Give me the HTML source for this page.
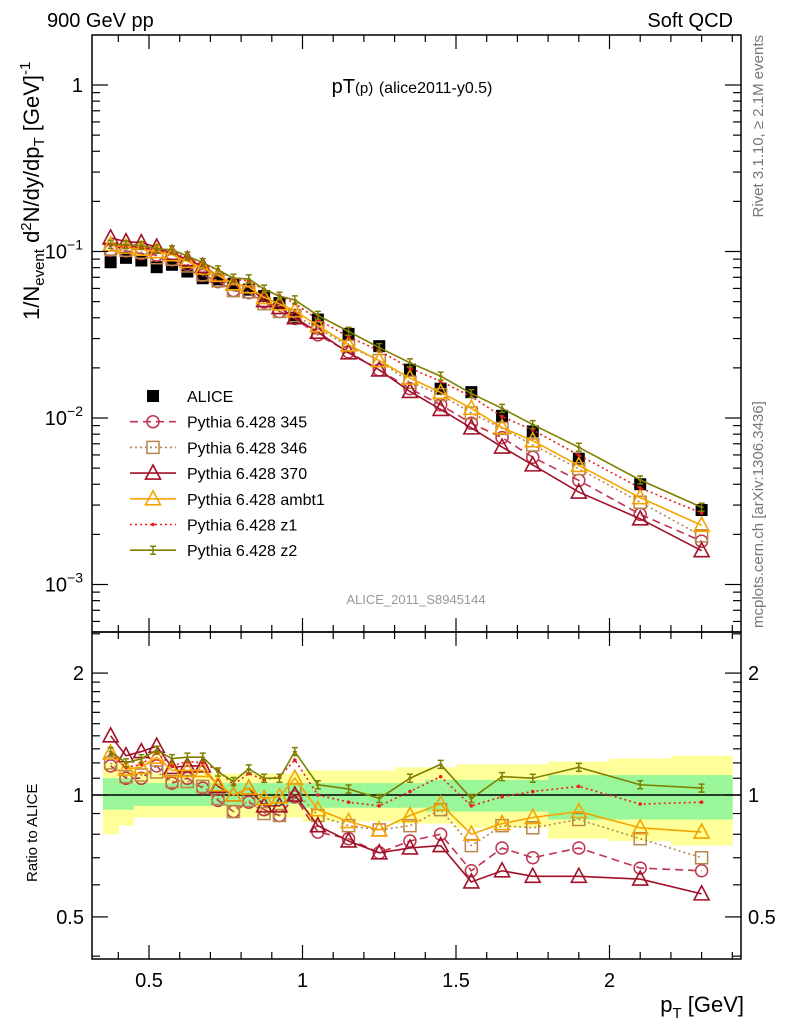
<!DOCTYPE html>
<html><head><meta charset="utf-8"><style>
html,body{margin:0;padding:0;background:#fff;}
svg{display:block;font-family:"Liberation Sans",sans-serif;}
</style></head><body>
<svg id="chart" width="786" height="1024" viewBox="0 0 786 1024" xmlns="http://www.w3.org/2000/svg">
<text x="47" y="27" font-size="20">900 GeV pp</text>
<text x="733" y="27" font-size="20" text-anchor="end">Soft QCD</text>
<text x="412" y="93" font-size="20" text-anchor="middle">pT<tspan font-size="15">(p)</tspan> <tspan font-size="16">(alice2011-y0.5)</tspan></text>
<text x="416" y="604" font-size="13" fill="#999" text-anchor="middle">ALICE_2011_S8945144</text>
<text transform="translate(763,35) rotate(-90)" font-size="15" fill="#777" text-anchor="end">Rivet 3.1.10, ≥ 2.1M events</text>
<text transform="translate(763,628) rotate(-90)" font-size="15" fill="#777">mcplots.cern.ch [arXiv:1306.3436]</text>
<text transform="translate(39,320) rotate(-90)" font-size="22">1/N<tspan font-size="15" dy="5">event</tspan><tspan dy="-5"> d</tspan><tspan font-size="15" dy="-8">2</tspan><tspan dy="8">N/dy/dp</tspan><tspan font-size="15" dy="5">T</tspan><tspan dy="-5">  [GeV]</tspan><tspan font-size="15" dy="-9">-1</tspan></text>
<text transform="translate(37,882) rotate(-90)" font-size="15">Ratio to ALICE</text>
<text x="744" y="1012" font-size="22" text-anchor="end">p<tspan font-size="15" dy="6">T</tspan><tspan dy="-6"> [GeV]</tspan></text>
<g id="g"></g>
</svg>
<script>
const pt = [0.375,0.425,0.475,0.525,0.575,0.625,0.675,0.725,0.775,0.825,0.875,0.925,0.975,1.05,1.15,1.25,1.35,1.45,1.55,1.65,1.75,1.9,2.1,2.3];
const binEdges = [0.35,0.4,0.45,0.5,0.55,0.6,0.65,0.7,0.75,0.8,0.85,0.9,0.95,1.0,1.1,1.2,1.3,1.4,1.5,1.6,1.7,1.8,2.0,2.2,2.4];
const alice = [0.0862,0.0916,0.0883,0.0805,0.0832,0.0758,0.0691,0.068,0.064,0.059,0.054,0.049,0.040,0.039,0.032,0.027,0.0195,0.015,0.0143,0.0103,0.0083,0.0057,0.0040,0.0028];
const r345 = [1.18,1.10,1.10,1.18,1.07,1.10,1.04,0.97,0.91,0.96,0.92,0.89,0.99,0.81,0.78,0.72,0.77,0.80,0.65,0.74,0.70,0.74,0.66,0.65];
const r346 = [1.20,1.11,1.12,1.14,1.08,1.08,1.05,0.98,0.91,0.97,0.90,0.89,1.03,0.89,0.84,0.82,0.84,0.92,0.75,0.84,0.83,0.87,0.78,0.70];
const r370 = [1.40,1.25,1.28,1.32,1.17,1.18,1.18,1.05,1.00,1.04,0.94,0.94,1.00,0.84,0.77,0.72,0.74,0.75,0.61,0.65,0.63,0.63,0.62,0.57];
const rAmbt1 = [1.27,1.16,1.17,1.24,1.15,1.15,1.15,1.06,1.00,1.04,0.98,0.99,1.10,0.92,0.86,0.82,0.89,0.95,0.80,0.85,0.88,0.91,0.83,0.81];
const rZ1 = [1.26,1.17,1.19,1.27,1.18,1.21,1.20,1.15,1.06,1.13,1.09,1.11,1.22,1.00,0.96,0.94,1.02,1.11,0.94,0.99,1.02,1.05,0.95,0.96];
const rZ2 = [1.28,1.20,1.23,1.29,1.23,1.24,1.24,1.14,1.08,1.16,1.10,1.10,1.28,1.06,1.035,0.98,1.10,1.19,0.98,1.11,1.10,1.17,1.06,1.04];
const greenLo = [0.92,0.92,0.94,0.94,0.94,0.94,0.94,0.94,0.94,0.94,0.94,0.94,0.95,0.93,0.93,0.93,0.93,0.91,0.91,0.91,0.91,0.87,0.87,0.87];
const greenHi = [1.10,1.10,1.07,1.07,1.07,1.07,1.07,1.07,1.07,1.07,1.07,1.07,1.06,1.07,1.07,1.07,1.07,1.09,1.09,1.09,1.09,1.12,1.12,1.12];
const yelLo = [0.80,0.84,0.88,0.88,0.88,0.88,0.88,0.88,0.88,0.88,0.88,0.88,0.88,0.86,0.86,0.86,0.85,0.85,0.83,0.83,0.83,0.78,0.77,0.75];
const yelHi = [1.20,1.18,1.13,1.13,1.13,1.13,1.13,1.13,1.13,1.13,1.13,1.13,1.13,1.15,1.15,1.15,1.17,1.17,1.19,1.19,1.19,1.21,1.23,1.25];
const xTicks = [0.5,1,1.5,2];
const xTickLabels = ["0.5","1","1.5","2"];
const ratioTicks = [0.5,1,2];
const ratioTickLabels = ["0.5","1","2"];

const NS="http://www.w3.org/2000/svg";
const G=document.getElementById('g');
const L=92,R=741,T1=35,B1=632,T2=632,B2=959;
const X=v=>149+(v-0.5)*307;
const Y1=v=>85-Math.log10(v)*166.5;
const Y2=v=>795-Math.log10(v)*405;
function el(tag,attrs,parent){const e=document.createElementNS(NS,tag);for(const k in attrs)e.setAttribute(k,attrs[k]);(parent||G).appendChild(e);return e;}

const bands=el('g',{});


for(let i=0;i<pt.length;i++){
  const x0=X(binEdges[i]),x1=X(binEdges[i+1]);
  const y=el('rect',{x:x0,y:Y2(yelHi[i]),width:x1-x0+0.5,height:Y2(yelLo[i])-Y2(yelHi[i]),fill:'#ffff99'},bands);
  
  
  const g=el('rect',{x:x0,y:Y2(greenHi[i]),width:x1-x0+0.5,height:Y2(greenLo[i])-Y2(greenHi[i]),fill:'#99f799'},bands);
  
  
}
const one=el('line',{x1:L,x2:R,y1:Y2(1),y2:Y2(1),stroke:'#000','stroke-width':1.5});



const series=[
 {name:'345',r:r345,color:'#c0344f',dash:'8,5',m:'circle'},
 {name:'346',r:r346,color:'#b8864b',dash:'2,3',m:'square'},
 {name:'370',r:r370,color:'#a01028',dash:'',m:'tri'},
 {name:'ambt1',r:rAmbt1,color:'#f5a400',dash:'',m:'tri'},
 {name:'z1',r:rZ1,color:'#ee1c1c',dash:'2,3',m:'dot'},
 {name:'z2',r:rZ2,color:'#7f7f00',dash:'',m:'bar'}
];
function marker(m,x,y,c,parent,name){
  let e;
  if(m==='circle')e=el('circle',{cx:x,cy:y,r:6,fill:'none',stroke:c,'stroke-width':1.5},parent);
  else if(m==='square')e=el('rect',{x:x-6,y:y-6,width:12,height:12,fill:'none',stroke:c,'stroke-width':1.5},parent);
  else if(m==='tri')e=el('polygon',{points:`${x},${y-8} ${x-7.5},${y+6} ${x+7.5},${y+6}`,fill:'none',stroke:c,'stroke-width':1.6},parent);
  else if(m==='dot')e=el('circle',{cx:x,cy:y,r:1.8,fill:c},parent);
  else if(m==='bar'){e=el('path',{d:`M${x-3},${y-4}H${x+3}M${x},${y-4}V${y+4}M${x-3},${y+4}H${x+3}M${x-2},${y}H${x+2}`,stroke:c,'stroke-width':1.5,fill:'none'},parent);}
  else if(m==='sq')e=el('rect',{x:x-6,y:y-6,width:12,height:12,fill:c},parent);
  
  
  return e;
}
const ag=el('g',{});


for(let i=0;i<pt.length;i++){marker('sq',X(pt[i]),Y1(alice[i]),'#000',ag,'alice-point');}

series.forEach(s=>{
  const g=el('g',{});
  
  
  const top=pt.map((p,i)=>[X(p),Y1(s.r[i]*alice[i])]);
  const bot=pt.map((p,i)=>[X(p),Y2(s.r[i])]);
  [top,bot].forEach((pts,k)=>{
    const ln=el('polyline',{points:pts.map(p=>p.join(',')).join(' '),fill:'none',stroke:s.color,'stroke-width':1.6,'stroke-dasharray':s.dash},g);
    
    
    pts.forEach(p=>marker(s.m,p[0],p[1],s.color,g,'marker-'+s.name));
  });
});

[[T1,B1],[T2,B2]].forEach((f,k)=>{
  const r=el('rect',{x:L,y:f[0],width:R-L,height:f[1]-f[0],fill:'none',stroke:'#000','stroke-width':1.5});
  
  
});
const ticks=el('g',{stroke:'#000','stroke-width':1.2});


function tk(x1,y1,x2,y2){el('line',{x1,y1,x2,y2},ticks);}
for(let v=0.4;v<=2.41;v+=0.1){
  const vv=Math.round(v*10)/10,x=X(vv);
  const maj=Math.abs(vv*2-Math.round(vv*2))<1e-6,len=maj?14:7;
  [[T1,B1],[T2,B2]].forEach(f=>{tk(x,f[0],x,f[0]+len);tk(x,f[1],x,f[1]-len);});
}
xTicks.forEach((v,i)=>{
  const t=el('text',{x:X(v),y:987,'font-size':20,'text-anchor':'middle'});
  t.textContent=xTickLabels[i];
  
  
});
for(let e=-4;e<=0;e++){for(let m=1;m<=9;m++){
  const v=m*Math.pow(10,e),y=Y1(v);
  if(y<T1||y>B1)continue;
  const len=m===1?16:8;tk(L,y,L+len,y);tk(R,y,R-len,y);
}}
const ylabs=[[1,'1',''],[0.1,'10','−1'],[0.01,'10','−2'],[0.001,'10','−3']];
ylabs.forEach(l=>{
  const t=el('text',{x:83,y:Y1(l[0])+7,'font-size':20,'text-anchor':'end'});
  t.textContent=l[1];
  if(l[2]){const s=el('tspan',{'font-size':14,dy:-9},t);s.textContent=l[2];}
  
  
});
for(let v=0.4;v<=2.51;v+=0.1){
  const vv=Math.round(v*10)/10;
  if(vv>2&&vv<2.5)continue;
  const y=Y2(vv);if(y<T2||y>B2)continue;
  const maj=(vv===0.5||vv===1||vv===2),len=maj?16:8;
  tk(L,y,L+len,y);tk(R,y,R-len,y);
}
ratioTicks.forEach((v,i)=>{
  [[84,'end'],[748,'start']].forEach(p=>{
    const t=el('text',{x:p[0],y:Y2(v)+7,'font-size':20,'text-anchor':p[1]});
    t.textContent=ratioTickLabels[i];
    
    
  });
});
const leg=el('g',{});


const legItems=[{label:'ALICE',m:'sq',color:'#000',dash:null}].concat(series.map(s=>({label:'Pythia 6.428 '+s.name,m:s.m,color:s.color,dash:s.dash})));
legItems.forEach((it,i)=>{
  const y=396+i*25.7;
  const e=el('g',{},leg);
  
  
  if(it.dash!==null){el('line',{x1:130,x2:176,y1:y,y2:y,stroke:it.color,'stroke-width':1.6,'stroke-dasharray':it.dash},e);}
  marker(it.m,153,y,it.color,e,'legend-marker');
  const t=el('text',{x:187,y:y+6,'font-size':16},e);
  t.textContent=it.label;
  
  
});
</script>
</body></html>
